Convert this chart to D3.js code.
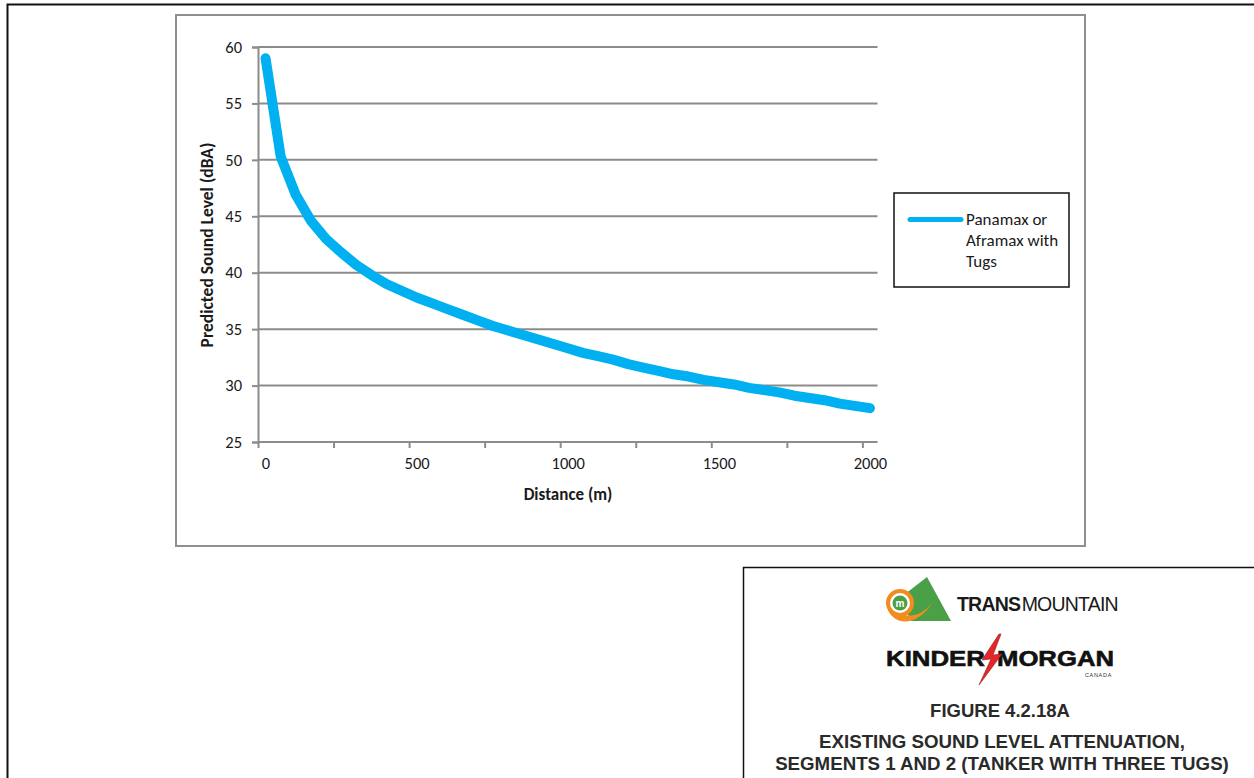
<!DOCTYPE html>
<html>
<head>
<meta charset="utf-8">
<script src="https://cdn.jsdelivr.net/npm/d3@7"></script>
<style>
  html, body { margin: 0; padding: 0; background: #fff; }
  svg { display: block; }
  .tick text { font-family: Carlito, Lato, "Open Sans", sans-serif; }
</style>
</head>
<body>
<svg id="fig" width="1254" height="778"></svg>
<script>
// Distance from source (m), one category every 50 m
const distances = [0, 50, 100, 150, 200, 250, 300, 350, 400, 450,
                   500, 550, 600, 650, 700, 750, 800, 850, 900, 950,
                   1000, 1050, 1100, 1150, 1200, 1250, 1300, 1350, 1400, 1450,
                   1500, 1550, 1600, 1650, 1700, 1750, 1800, 1850, 1900, 1950, 2000];
// Predicted sound level (dBA), Panamax or Aframax with tugs
const soundLevels = [59.0, 50.3, 46.9, 44.6, 43.0, 41.8, 40.7, 39.8, 39.0, 38.4,
                     37.8, 37.3, 36.8, 36.3, 35.8, 35.3, 34.9, 34.5, 34.1, 33.7,
                     33.3, 32.9, 32.6, 32.3, 31.9, 31.6, 31.3, 31.0, 30.8, 30.5,
                     30.3, 30.1, 29.8, 29.6, 29.4, 29.1, 28.9, 28.7, 28.4, 28.2, 28.0];
const yTicks = [25, 30, 35, 40, 45, 50, 55, 60];
const xLabelTicks = [0, 500, 1000, 1500, 2000];
const seriesName = ["Panamax or", "Aframax with", "Tugs"];
const figureTitle = "FIGURE 4.2.18A";
const figureCaption = ["EXISTING SOUND LEVEL ATTENUATION,", "SEGMENTS 1 AND 2 (TANKER WITH THREE TUGS)"];

const svg = d3.select("#fig");
const LINE_BLUE = "#00b0f0";
const GRID = "#8c8c8c";
const TXT = "#1a1a1a";
const chartFont = "Carlito, Lato, 'Open Sans', sans-serif";
const figFont = "'Liberation Sans', Arial, sans-serif";

// page frame
svg.append("path")
  .attr("d", "M7.5,778 V4.5 H1254")
  .attr("fill", "none").attr("stroke", "#111").attr("stroke-width", 2);

// chart area frame
svg.append("rect")
  .attr("x", 176).attr("y", 15).attr("width", 909).attr("height", 531)
  .attr("fill", "#fff").attr("stroke", "#8f8f8f").attr("stroke-width", 2);

// scales: category axis, each category centred in a 50 m slot
const step = 50;
const x = d3.scaleLinear()
  .domain([distances[0] - step / 2, distances[distances.length - 1] + step / 2])
  .range([258, 877.5]);
const y = d3.scaleLinear().domain([25, 60]).range([442, 47]);

// horizontal gridlines
svg.append("g").selectAll("line")
  .data(yTicks.slice(1))
  .join("line")
  .attr("x1", x.range()[0]).attr("x2", x.range()[1])
  .attr("y1", d => y(d)).attr("y2", d => y(d))
  .attr("stroke", GRID).attr("stroke-width", 2);

// y axis
const yAxis = svg.append("g")
  .attr("transform", `translate(${x.range()[0]},0)`)
  .call(d3.axisLeft(y).tickValues(yTicks).tickSize(6).tickPadding(10));
yAxis.select(".domain").attr("stroke", GRID).attr("stroke-width", 2);
yAxis.selectAll(".tick line").attr("stroke", GRID).attr("stroke-width", 2);
yAxis.selectAll(".tick text").attr("font-size", 16.5).attr("fill", TXT);

// x axis: tick marks on category boundaries every 5 categories
const boundaryTicks = distances.filter((d, i) => i % 5 === 0).map(d => d - step / 2);
const xAxis = svg.append("g")
  .attr("transform", `translate(0,${y(25)})`)
  .call(d3.axisBottom(x).tickValues(boundaryTicks).tickSize(6).tickFormat(""));
xAxis.select(".domain").attr("stroke", GRID).attr("stroke-width", 2)
  .attr("d", `M${x.range()[0]},0H${x.range()[1]}`);
xAxis.selectAll(".tick line").attr("stroke", GRID).attr("stroke-width", 2);

// x labels centred on their categories
const xLab = svg.append("g")
  .attr("transform", `translate(0,${y(25)})`)
  .call(d3.axisBottom(x).tickValues(xLabelTicks).tickSize(0).tickPadding(15)
    .tickFormat(d3.format("d")));
xLab.select(".domain").remove();
xLab.selectAll(".tick text").attr("font-size", 16.5).attr("fill", TXT);

// axis titles
svg.append("text")
  .attr("x", 568).attr("y", 500)
  .attr("text-anchor", "middle")
  .attr("font-family", chartFont).attr("font-weight", "bold").attr("font-size", 17)
  .attr("fill", TXT).text("Distance (m)");
svg.append("text")
  .attr("transform", "translate(213,245) rotate(-90)")
  .attr("text-anchor", "middle")
  .attr("font-family", chartFont).attr("font-weight", "bold").attr("font-size", 17.5)
  .attr("fill", TXT).text("Predicted Sound Level (dBA)");

// the series
const line = d3.line()
  .x((d, i) => x(distances[i]))
  .y(d => y(d));
svg.append("path")
  .datum(soundLevels)
  .attr("d", line)
  .attr("fill", "none")
  .attr("stroke", LINE_BLUE)
  .attr("stroke-width", 10)
  .attr("stroke-linecap", "round")
  .attr("stroke-linejoin", "round");

// legend
const lg = svg.append("g");
lg.append("rect")
  .attr("x", 894).attr("y", 193).attr("width", 175).attr("height", 94)
  .attr("fill", "#fff").attr("stroke", "#111").attr("stroke-width", 1.5);
lg.append("line")
  .attr("x1", 910).attr("x2", 961).attr("y1", 219.5).attr("y2", 219.5)
  .attr("stroke", LINE_BLUE).attr("stroke-width", 5).attr("stroke-linecap", "round");
lg.selectAll("text.item")
  .data(seriesName)
  .join("text")
  .attr("class", "item")
  .attr("x", 966).attr("y", (d, i) => 225 + i * 21)
  .attr("font-family", chartFont).attr("font-size", 17).attr("fill", TXT)
  .text(d => d);

// title block
const tb = svg.append("g");
tb.append("path")
  .attr("d", "M743.5,778 V567.5 H1254")
  .attr("fill", "none").attr("stroke", "#111").attr("stroke-width", 1.5);

// Trans Mountain mark
tb.append("polygon")
  .attr("points", "900,598 927,577 951,621 911,621")
  .attr("fill", "#4aa047");
tb.append("path")
  .attr("d", "M888,610 C895,626 917,627 933,602 C920,619 901,620 893,605 Z")
  .attr("fill", "#f28c1e");
tb.append("circle").attr("cx", 900).attr("cy", 603).attr("r", 12)
  .attr("fill", "#fff").attr("stroke", "#f28c1e").attr("stroke-width", 4);
tb.append("circle").attr("cx", 900).attr("cy", 603).attr("r", 7.5).attr("fill", "#4aa047");
tb.append("text").attr("x", 900).attr("y", 607).attr("text-anchor", "middle")
  .attr("font-family", figFont).attr("font-weight", "bold").attr("font-size", 10)
  .attr("fill", "#fff").text("m");
const tm = tb.append("text").attr("x", 957).attr("y", 610.5)
  .attr("font-family", figFont).attr("font-size", 19.5).attr("fill", "#1a1a1a")
  .attr("letter-spacing", -0.8);
tm.append("tspan").attr("font-weight", "bold").text("TRANS");
tm.append("tspan").attr("dx", 1.5).text("MOUNTAIN");

// Kinder Morgan mark
tb.append("text").attr("x", 886).attr("y", 666)
  .attr("font-family", figFont).attr("font-weight", "900").attr("font-size", 22.5)
  .attr("textLength", 99).attr("lengthAdjust", "spacingAndGlyphs")
  .attr("fill", "#111").attr("stroke", "#111").attr("stroke-width", 0.6).text("KINDER");
tb.append("text").attr("x", 997).attr("y", 666)
  .attr("font-family", figFont).attr("font-weight", "900").attr("font-size", 22.5)
  .attr("textLength", 117).attr("lengthAdjust", "spacingAndGlyphs")
  .attr("fill", "#111").attr("stroke", "#111").attr("stroke-width", 0.6).text("MORGAN");
tb.append("polygon")
  .attr("points", "999,634 982,660 991,659 979,685 1002,654 993,655 1001,634")
  .attr("fill", "#e3262a").attr("stroke", "#9b1b1b").attr("stroke-width", 0.6);
tb.append("text").attr("x", 1112).attr("y", 677).attr("text-anchor", "end")
  .attr("font-family", figFont).attr("font-size", 5.5).attr("fill", "#333")
  .attr("letter-spacing", 0.7).text("CANADA");

// figure number and caption
tb.append("text").attr("x", 1000).attr("y", 717).attr("text-anchor", "middle")
  .attr("font-family", figFont).attr("font-weight", "bold").attr("font-size", 18.5)
  .attr("fill", "#2a2a2a").text(figureTitle);
tb.selectAll("text.cap")
  .data(figureCaption)
  .join("text")
  .attr("class", "cap")
  .attr("x", 1002).attr("y", (d, i) => 748 + i * 21.5).attr("text-anchor", "middle")
  .attr("font-family", figFont).attr("font-weight", "bold").attr("font-size", 18.7)
  .attr("fill", "#2a2a2a").text(d => d);
</script>
</body>
</html>
